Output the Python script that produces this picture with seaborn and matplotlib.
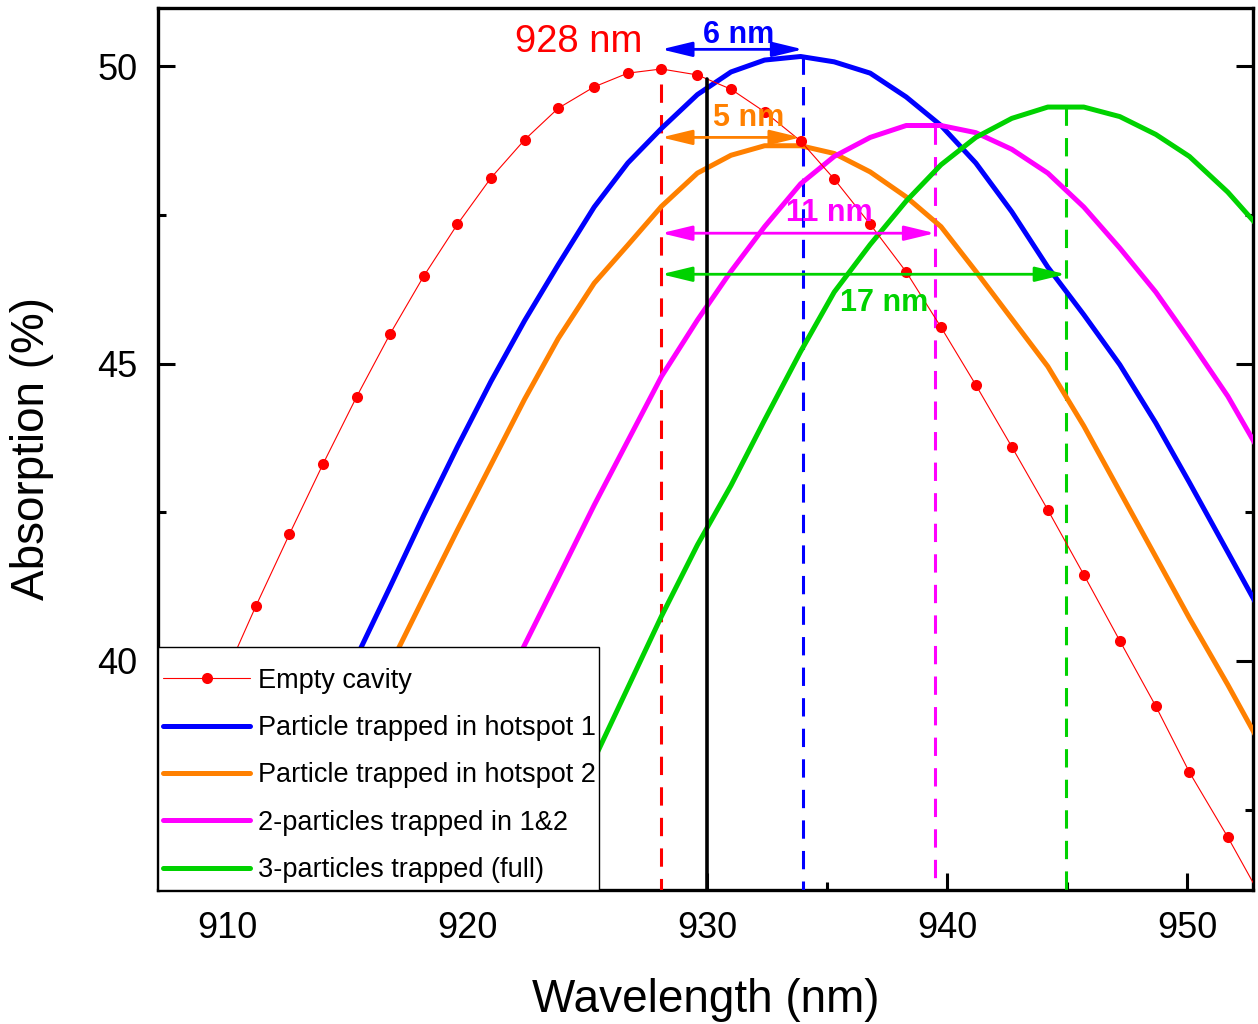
import numpy as np
import pandas as pd
import matplotlib
matplotlib.use("Agg")
import matplotlib.pyplot as plt
from matplotlib.ticker import MultipleLocator
from matplotlib.patches import Rectangle
import seaborn as sns

nan = float("nan")

# ---------------- data ----------------
wavelength = [906.9, 908.35, 909.8, 911.2, 912.6, 914.0, 915.4, 916.8, 918.2, 919.6,
              921.0, 922.4, 923.8, 925.3, 926.7, 928.1, 929.6, 931.0, 932.4, 933.9,
              935.3, 936.8, 938.3, 939.75, 941.2, 942.7, 944.2, 945.7, 947.2, 948.7,
              950.1, 951.7, 953.2]

empty_cavity = [36.95, 38.35, 39.65, 40.92, 42.13, 43.31, 44.44, 45.50, 46.47, 47.34,
                48.12, 48.76, 49.29, 49.65, 49.88, 49.95, 49.85, 49.61, 49.23, 48.74,
                48.10, 47.34, 46.54, 45.61, 44.64, 43.60, 42.54, 41.45, 40.34, 39.24,
                38.13, 37.04, 35.95]

hotspot1 = [nan, nan, 35.0, 36.35, 37.65, 38.9, 40.07, 41.25, 42.45, 43.6,
            44.7, 45.72, 46.66, 47.63, 48.37, 48.95, 49.52, 49.9, 50.1, 50.16,
            50.07, 49.88, 49.48, 49.0, 48.37, 47.55, 46.62, 45.82, 44.98, 44.0,
            43.0, 41.83, 40.73]

hotspot2 = [nan, nan, nan, 35.0, 36.25, 37.5, 38.75, 39.93, 41.07, 42.2,
            43.3, 44.4, 45.42, 46.35, 46.99, 47.64, 48.2, 48.5, 48.66, 48.66,
            48.53, 48.22, 47.8, 47.3, 46.55, 45.75, 44.95, 43.95, 42.85, 41.75,
            40.72, 39.6, 38.5]

two_particles = [nan, nan, nan, nan, nan, nan, nan, 35.4, 36.7, 37.9,
                 39.1, 40.27, 41.4, 42.62, 43.7, 44.78, 45.73, 46.55, 47.3, 48.02,
                 48.48, 48.8, 49.0, 49.0, 48.88, 48.6, 48.2, 47.63, 46.94, 46.2,
                 45.4, 44.45, 43.4]

three_particles = [nan, nan, nan, nan, nan, nan, nan, nan, nan, nan,
                   34.9, 36.0, 37.15, 38.35, 39.55, 40.75, 41.95, 42.95, 44.05, 45.2,
                   46.2, 47.0, 47.73, 48.34, 48.8, 49.12, 49.31, 49.31, 49.15, 48.85,
                   48.48, 47.88, 47.2]

series_labels = ["Empty cavity", "Particle trapped in hotspot 1",
                 "Particle trapped in hotspot 2", "2-particles trapped in 1&2",
                 "3-particles trapped (full)"]

# resonance peaks (wavelength, absorption) marked by dashed lines
peak_wl = [928.1, 934.0, 939.5, 944.95]
peak_abs = [49.7, 50.16, 49.0, 49.31]
ref_wl = 930.0
ref_top = 49.78
shift_labels = ["6 nm", "5 nm", "11 nm", "17 nm"]
shift_ends = [934.0, 933.9, 939.5, 944.95]

# ---------------- style ----------------
sns.set_theme(style="ticks")
plt.rcParams["font.family"] = ["Liberation Sans", "DejaVu Sans"]
plt.rcParams["text.color"] = "black"
plt.rcParams["axes.labelcolor"] = "black"
plt.rcParams["xtick.color"] = "black"
plt.rcParams["ytick.color"] = "black"

RED = "#FF0000"
BLUE = "#0000FF"
ORANGE = "#FF8000"
MAGENTA = "#FF00FF"
GREEN = "#00D200"

fig = plt.figure(figsize=(12.58, 10.24), dpi=100)
ax = fig.add_axes([158 / 1258, 1 - 890 / 1024, (1253 - 158) / 1258, (890 - 8) / 1024])

df = pd.DataFrame({"wl": wavelength, "empty": empty_cavity, "h1": hotspot1,
                   "h2": hotspot2, "p2": two_particles, "p3": three_particles})

sns.lineplot(data=df, x="wl", y="empty", ax=ax, color=RED, lw=0.8, marker="o",
             markersize=8, markeredgewidth=0, label=series_labels[0],
             estimator=None, sort=False, zorder=5)
for col, c, lab in zip(["h1", "h2", "p2", "p3"], [BLUE, ORANGE, MAGENTA, GREEN],
                       series_labels[1:]):
    sns.lineplot(data=df, x="wl", y=col, ax=ax, color=c, lw=3.6, label=lab,
                 estimator=None, sort=False, zorder=4)

ymin, ymax = 36.151, 50.975
ax.set_xlim(907.125, 952.75)
ax.set_ylim(ymin, ymax)

# vertical markers
dash = (6, 4)
for x, top, c in zip(peak_wl, peak_abs, [RED, BLUE, MAGENTA, GREEN]):
    ax.plot([x, x], [top, ymin], color=c, lw=2.2, linestyle=(0, dash), zorder=3)
ax.plot([ref_wl, ref_wl], [ymin, ref_top], color="black", lw=2.6, zorder=6)

# shift arrows
arrow_y = [50.28, 48.80, 47.19, 46.50]
text_pos = [(931.33, 50.52), (931.75, 49.13), (935.1, 47.53), (937.4, 46.02)]
for end, yv, lab, (tx, ty), c in zip(shift_ends, arrow_y, shift_labels, text_pos,
                                      [BLUE, ORANGE, MAGENTA, GREEN]):
    ax.annotate("", xy=(end, yv), xytext=(peak_wl[0], yv),
                arrowprops=dict(arrowstyle="<|-|>,head_length=0.62,head_width=0.15",
                                mutation_scale=30, color=c, lw=2,
                                shrinkA=0, shrinkB=0), zorder=7)
    ax.text(tx, ty, lab, color=c, fontsize=22, fontweight="bold",
            ha="center", va="center", zorder=8)

ax.text(927.3, 50.40, "928 nm", color=RED, fontsize=27.5, ha="right", va="center")

# axes cosmetics
for s in ax.spines.values():
    s.set_linewidth(2.4)
    s.set_color("black")
ax.xaxis.set_major_locator(MultipleLocator(10))
ax.xaxis.set_minor_locator(MultipleLocator(5))
ax.yaxis.set_major_locator(MultipleLocator(5))
ax.yaxis.set_minor_locator(MultipleLocator(2.5))
ax.tick_params(which="both", direction="in", width=2.2, color="black",
               right=True, top=False, labelsize=26, labelcolor="black")
ax.tick_params(which="major", length=12)
ax.tick_params(which="minor", length=6)
ax.tick_params(axis="x", pad=15)
ax.tick_params(axis="y", pad=15)
ax.set_xlabel("Wavelength (nm)", fontsize=33, labelpad=23, color="black")
ax.set_ylabel("Absorption (%)", fontsize=33, labelpad=31, color="black")

# legend: separate frame + frameless legend
frame_w = (599 - 158) / 1095
frame_h = (890 - 647) / 882
ax.add_patch(Rectangle((0, 0), frame_w, frame_h, transform=ax.transAxes,
                       facecolor="white", edgecolor="black", lw=1.0,
                       zorder=19, clip_on=False))
leg = ax.legend(loc="lower left", bbox_to_anchor=(0, 0.0015), borderaxespad=0,
                fontsize=19.5, handlelength=3.2, handletextpad=0.3,
                labelspacing=0.79, borderpad=0.2, frameon=False)
leg.set_zorder(20)

fig.savefig("out.png", dpi=100)
